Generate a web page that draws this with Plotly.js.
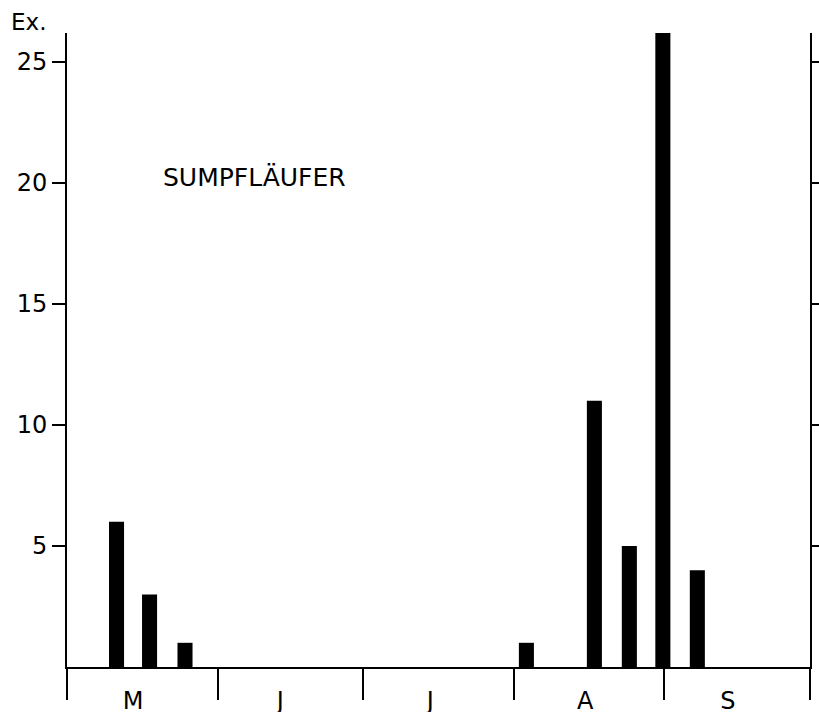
<!DOCTYPE html>
<html>
<head>
<meta charset="utf-8">
<script src="https://cdn.plot.ly/plotly-3.0.1.min.js"></script>
<style>html,body{margin:0;padding:0;background:#fff;}</style>
</head>
<body>
<div id="chart" style="width:819px;height:712px;"></div>
<script>
// Day of season (0 = 1 May) for each weekly catch
const catchDays = [10.2, 17.0, 24.3, 94.6, 108.6, 115.8, 122.7, 129.8];
const catchCounts = [6, 3, 1, 1, 11, 5, 26.2, 4];
// Month boundaries (days since 1 May) and label positions
const monthBounds = [0, 31, 61, 92, 123, 153];
const monthLabelPos = [13.6, 43.9, 74.8, 106.7, 136.1];
const monthLabels = ['M', 'J', 'J', 'A', 'S'];
const yTicks = [5, 10, 15, 20, 25];

const fontFam = 'DejaVu Sans, Liberation Sans, sans-serif';

const data = [{
  type: 'bar',
  x: catchDays,
  y: catchCounts,
  width: 3.1,
  marker: {color: '#000', line: {width: 0}},
  hoverinfo: 'none'
}];

const layout = {
  width: 819, height: 712,
  margin: {l: 67, r: 9, t: 33, b: 45},
  paper_bgcolor: '#fff', plot_bgcolor: '#fff',
  showlegend: false,
  font: {family: fontFam, size: 24, color: '#000'},
  xaxis: {
    range: [0, 153],
    tickmode: 'array', tickvals: monthLabelPos, ticktext: monthLabels,
    ticks: '', ticklabelstandoff: 11,
    tickfont: {family: fontFam, size: 24, color: '#000'},
    minor: {tickmode: 'array', tickvals: monthBounds, ticks: 'outside',
            ticklen: 31, tickwidth: 2, tickcolor: '#000', showgrid: false},
    showline: true, linewidth: 2, linecolor: '#000',
    showgrid: false, zeroline: false
  },
  yaxis: {
    range: [0, 26.2],
    tickmode: 'array', tickvals: yTicks,
    ticks: 'outside', ticklen: 13, tickwidth: 2, tickcolor: '#000',
    showline: true, linewidth: 2, linecolor: '#000', mirror: 'ticks',
    showgrid: false, zeroline: false,
    tickfont: {family: fontFam, size: 24, color: '#000'}
  },
  annotations: [
    {text: 'Ex.', xref: 'paper', yref: 'paper', x: -0.078, y: 1.017,
     xanchor: 'left', yanchor: 'middle', showarrow: false,
     font: {family: fontFam, size: 23, color: '#000'}},
    {text: 'SUMPFLÄUFER', xref: 'paper', yref: 'paper', x: 0.127, y: 0.772,
     xanchor: 'left', yanchor: 'middle', showarrow: false,
     font: {family: fontFam, size: 25, color: '#000'}}
  ]
};

Plotly.newPlot('chart', data, layout, {staticPlot: true, displayModeBar: false});
</script>
</body>
</html>
